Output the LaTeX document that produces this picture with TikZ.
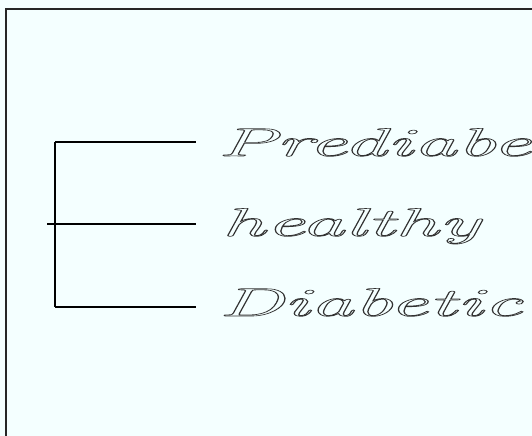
\documentclass[tikz,border=0pt]{standalone}
\usetikzlibrary{positioning}
\definecolor{bgcol}{RGB}{244,255,255}
\definecolor{txtcol}{RGB}{50,50,50}
\newcommand{\outlinetext}[1]{\special{pdf:literal direct 1 Tr 0.6 w}#1\special{pdf:literal direct 0 Tr}}
\tikzset{
  frameline/.style={line width=1.4bp, draw=black!85},
  treeline/.style={line width=1.1bp, draw=black},
  leaflabel/.style={anchor=base west, inner sep=0pt, text=txtcol, xscale=2.2,
    font=\fontsize{40}{40}\selectfont\itshape}
}
\begin{document}
\begin{tikzpicture}[x=1bp,y=-1bp]
\useasboundingbox (0,0) rectangle (532,436);
\clip (0,0) rectangle (532,436);
\fill[bgcol] (0,0) rectangle (532,436);
\draw[frameline] (6,440) -- (6,9) -- (540,9);
% dendrogram
\coordinate (top) at (55,142);
\coordinate (mid) at (55,224);
\coordinate (bot) at (55,307);
\coordinate (root) at (47,224);
\coordinate (ltop) at (196,142);
\coordinate (lmid) at (196,224);
\coordinate (lbot) at (196,307);
\draw[treeline] (top) -- (bot);
\draw[treeline] (root) -- (mid) -- (lmid);
\draw[treeline] (top) -- (ltop);
\draw[treeline] (bot) -- (lbot);
\node[leaflabel] (pre) at (217,156) {\outlinetext{Prediabe}};
\node[leaflabel] (hea) at (221,236) {\outlinetext{healthy}};
\node[leaflabel] (dia) at (218,316) {\outlinetext{Diabetic}};
\end{tikzpicture}
\end{document}
